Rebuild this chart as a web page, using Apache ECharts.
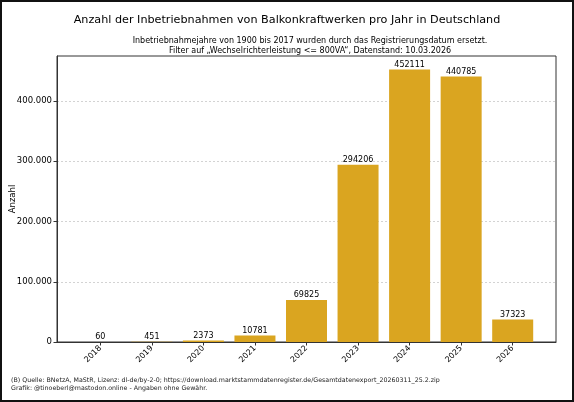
<!DOCTYPE html>
<html>
<head>
<meta charset="utf-8">
<script src="https://cdn.jsdelivr.net/npm/echarts@6/dist/echarts.min.js"></script>
<style>
html,body{margin:0;padding:0;background:#fff;}
#chart{width:574px;height:402px;}
</style>
</head>
<body>
<div id="chart"></div>
<script>
const years = ['2018','2019','2020','2021','2022','2023','2024','2025','2026'];
const counts = [60, 451, 2373, 10781, 69825, 294206, 452111, 440785, 37323];
const yTicks = [0, 100000, 200000, 300000, 400000];

const titleText = 'Anzahl der Inbetriebnahmen von Balkonkraftwerken pro Jahr in Deutschland';
const subtitleText = 'Inbetriebnahmejahre von 1900 bis 2017 wurden durch das Registrierungsdatum ersetzt.\nFilter auf \u201eWechselrichterleistung <= 800VA\u201c, Datenstand: 10.03.2026';
const footerText = '(B) Quelle: BNetzA, MaStR, Lizenz: dl-de/by-2-0; https://download.marktstammdatenregister.de/Gesamtdatenexport_20260311_25.2.zip\nGrafik: @tinoeberl@mastodon.online - Angaben ohne Gew\u00e4hr.';

const FONT = 'DejaVu Sans';
function fmtDe(v){
  return String(Math.round(v)).replace(/\B(?=(\d{3})+(?!\d))/g, '.');
}
const chart = echarts.init(document.getElementById('chart'), null, {renderer:'canvas'});
const barData = counts.map((v,i)=>[i, v]);
chart.setOption({
  animation:false,
  backgroundColor:'#fff',
  textStyle:{fontFamily:FONT},
  title:[
    {text:titleText, left:'center', top:10, textStyle:{fontFamily:FONT, fontSize:11.2, fontWeight:'normal', color:'#000'}},
    {text:subtitleText, left:305, top:31, textAlign:'center',
     textStyle:{fontFamily:FONT, fontSize:8, fontWeight:'normal', color:'#000', lineHeight:10, align:'center'}},
    {text:footerText, left:6, top:372,
     textStyle:{fontFamily:FONT, fontSize:6.3, fontWeight:'normal', color:'#222', lineHeight:7.5}}
  ],
  graphic:[
    {type:'rect', shape:{x:1, y:1, width:572, height:400}, style:{fill:null, stroke:'#111', lineWidth:2}, silent:true, z:100}
  ],
  grid:{left:57, right:18, top:56, bottom:60, show:true, borderColor:'#333', borderWidth:1, backgroundColor:'transparent', outerBoundsMode:'none', containLabel:false},
  xAxis:{
    type:'value', min:-0.84, max:8.84,
    axisLine:{show:true, onZero:false, lineStyle:{color:'#333'}},
    splitLine:{show:false},
    axisTick:{show:true, customValues:years.map((y,i)=>i), length:3.5, lineStyle:{color:'#333'}},
    axisLabel:{customValues:years.map((y,i)=>i), rotate:45, fontFamily:FONT, fontSize:8, color:'#000', margin:5,
      formatter:function(v){ return years[Math.round(v)] || ''; }}
  },
  yAxis:{
    type:'value', min:0, max:474717, interval:100000,
    name:'Anzahl', nameLocation:'middle', nameRotate:90, nameGap:40, nameMoveOverlap:false,
    nameTextStyle:{fontFamily:FONT, fontSize:8.5, color:'#000'},
    axisLine:{show:true, onZero:false, lineStyle:{color:'#333'}},
    axisTick:{show:true, length:3.5, lineStyle:{color:'#333'}, customValues:yTicks},
    axisLabel:{fontFamily:FONT, fontSize:8.5, color:'#000', margin:5, customValues:yTicks,
      formatter:function(v){ return fmtDe(v); }},
    splitLine:{show:true, lineStyle:{color:'#c8c8c8', type:[2,2], width:0.8}}
  },
  series:[{
    type:'bar', data:barData, barWidth:41,
    itemStyle:{color:'#DAA520'},
    label:{show:true, position:'top', distance:1, fontFamily:FONT, fontSize:8, color:'#000',
      formatter:function(p){ return String(p.value[1]); }}
  }]
});
</script>
</body>
</html>
